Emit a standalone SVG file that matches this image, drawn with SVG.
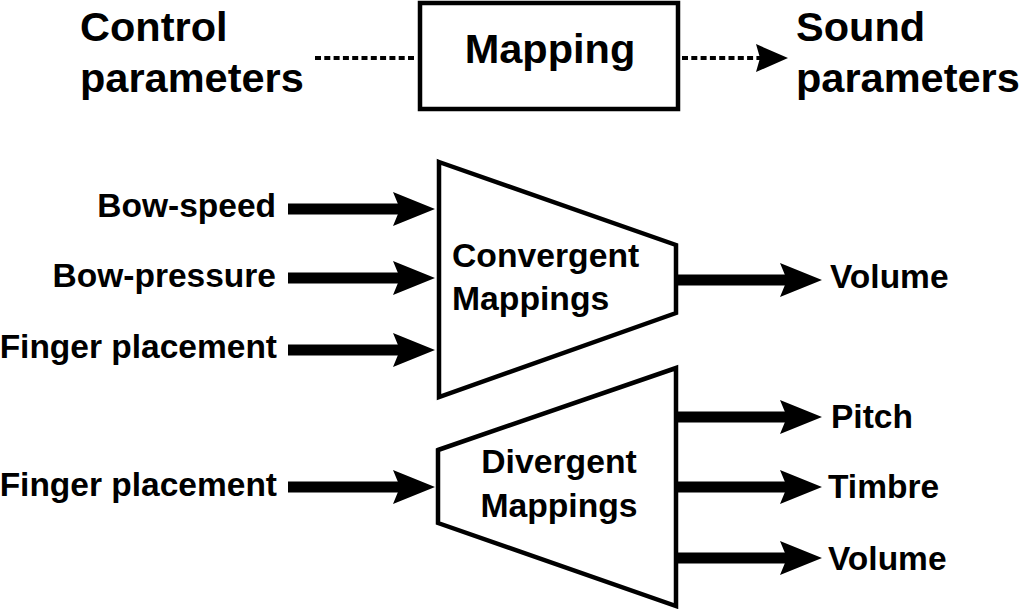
<svg xmlns="http://www.w3.org/2000/svg" width="1019" height="609" viewBox="0 0 1019 609">
<style>
  text { font-family: "Liberation Sans", Arial, Helvetica, sans-serif; font-weight: bold; fill: #000; }
  .big { font-size: 41.5px; }
  .lbl { font-size: 33.5px; }
  .inner { font-size: 33.7px; }
  .shape { fill: #fff; stroke: #000; stroke-width: 4.5; stroke-linejoin: miter; }
  .arrow { stroke: #000; stroke-width: 11; fill: none; marker-end: url(#head); }
  .dots { stroke: #000; stroke-width: 4; fill: none; stroke-dasharray: 6 3.3; }
</style>
<defs>
  <marker id="head" markerUnits="userSpaceOnUse" viewBox="-12 -18 44 36" markerWidth="44" markerHeight="36" refX="0" refY="0" orient="auto">
    <path d="M30,0 L-12,-17 L-5,0 L-12,17 Z" fill="#000"/>
  </marker>
  <marker id="headSmall" markerUnits="userSpaceOnUse" viewBox="-8 -15 40 30" markerWidth="40" markerHeight="30" refX="0" refY="0" orient="auto">
    <path d="M24,0 L-8,-14 L-4,0 L-8,14 Z" fill="#000"/>
  </marker>
</defs>
<rect width="1019" height="609" fill="#fff"/>

<g id="control-params">
  <text class="big" x="80" y="41">Control</text>
  <text class="big" x="80" y="92">parameters</text>
</g>
<g id="mapping">
  <rect class="shape" x="420" y="3" width="258" height="106" stroke-width="4"/>
  <text class="big" x="550" y="63" text-anchor="middle">Mapping</text>
</g>
<g id="sound-params">
  <text class="big" x="796" y="41">Sound</text>
  <text class="big" x="796" y="92">parameters</text>
</g>

<g id="in-bow-speed"><text class="lbl" x="276" y="217" text-anchor="end">Bow-speed</text></g>
<g id="in-bow-pressure"><text class="lbl" x="276" y="287" text-anchor="end">Bow-pressure</text></g>
<g id="in-finger-1"><text class="lbl" x="277" y="358" text-anchor="end">Finger placement</text></g>
<g id="in-finger-2"><text class="lbl" x="277" y="496" text-anchor="end">Finger placement</text></g>

<g id="convergent">
  <polygon class="shape" points="439,162 676,245 676,313 439,397"/>
  <text class="inner" x="452" y="267">Convergent</text>
  <text class="inner" x="452" y="310">Mappings</text>
</g>
<g id="divergent">
  <polygon class="shape" points="438,450 676,368 676,606 438,523"/>
  <text class="inner" x="559" y="473" text-anchor="middle">Divergent</text>
  <text class="inner" x="559" y="517" text-anchor="middle">Mappings</text>
</g>

<g id="out-volume-1"><text class="lbl" x="830" y="288">Volume</text></g>
<g id="out-pitch"><text class="lbl" x="831" y="428">Pitch</text></g>
<g id="out-timbre"><text class="lbl" x="828" y="498">Timbre</text></g>
<g id="out-volume-2"><text class="lbl" x="828" y="570">Volume</text></g>

<g id="connectors">
  <line class="dots" x1="315" y1="58" x2="417" y2="58"/>
  <line class="dots" x1="682" y1="58" x2="764" y2="58" marker-end="url(#headSmall)"/>
  <line class="arrow" x1="288" y1="209" x2="405" y2="209"/>
  <line class="arrow" x1="288" y1="278" x2="405" y2="278"/>
  <line class="arrow" x1="288" y1="350" x2="405" y2="350"/>
  <line class="arrow" x1="288" y1="487" x2="405" y2="487"/>
  <line class="arrow" x1="678" y1="280" x2="792" y2="280"/>
  <line class="arrow" x1="678" y1="417" x2="792" y2="417"/>
  <line class="arrow" x1="678" y1="487" x2="792" y2="487"/>
  <line class="arrow" x1="678" y1="558" x2="792" y2="558"/>
</g>
</svg>
